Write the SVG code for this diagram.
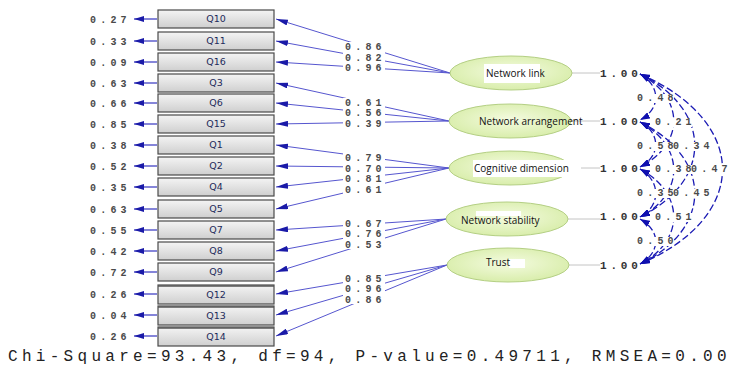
<svg xmlns="http://www.w3.org/2000/svg" width="731" height="367" viewBox="0 0 731 367">
  <defs>
    <linearGradient id="boxFill" x1="0" y1="0" x2="0" y2="1">
      <stop offset="0" stop-color="#f4f4f4"/>
      <stop offset="1" stop-color="#cfcfcf"/>
    </linearGradient>
    <radialGradient id="ellFill" cx="0.5" cy="0.45" r="0.6">
      <stop offset="0" stop-color="#f4fbe0"/>
      <stop offset="1" stop-color="#d6eca6"/>
    </radialGradient>
    <marker id="headLoad" viewBox="0 0 12 6" refX="12" refY="3" markerWidth="12" markerHeight="6" markerUnits="userSpaceOnUse" orient="auto">
      <path d="M0,0 L12,3 L0,6 z" fill="#1a1aa8"/>
    </marker>
    <marker id="headErr" viewBox="0 0 10 6" refX="0" refY="3" markerWidth="10" markerHeight="6" markerUnits="userSpaceOnUse" orient="auto">
      <path d="M0,3 L10,0 L10,6 z" fill="#1a1aa8"/>
    </marker>
    <marker id="headCov" viewBox="0 0 10 7" refX="10" refY="3.5" markerWidth="10" markerHeight="7" markerUnits="userSpaceOnUse" orient="auto-start-reverse">
      <path d="M0,0 L10,3.5 L0,7 z" fill="#1010b0"/>
    </marker>
  </defs>
  <style>
    .box { fill: url(#boxFill); stroke: #4a4a4a; stroke-width: 1.2; }
    .boxlbl { font-family: "DejaVu Sans", sans-serif; font-size: 9.5px; fill: #1d2a5a; text-anchor: middle; }
    .num { font-family: "Liberation Mono", monospace; font-size: 10px; letter-spacing: 4.2px; fill: #4a4a4a; font-weight: bold; }
    .bg { fill: #fff; }
    .one { font-family: "Liberation Mono", monospace; font-size: 11px; letter-spacing: 3.8px; fill: #333; font-weight: bold; }
    .ell { fill: url(#ellFill); stroke: #b4cf84; stroke-width: 1; }
    .elllbl { font-family: "Open Sans", sans-serif; font-size: 10px; fill: #111; }
    .load { stroke: #5656cf; stroke-width: 1; fill: none; marker-end: url(#headLoad); }
    .err { stroke: #3434c0; stroke-width: 1.2; fill: none; marker-start: url(#headErr); }
    .tie { stroke: #c4c4c4; stroke-width: 1; }
    .cov { stroke: #1a1ab4; stroke-width: 1.3; fill: none; stroke-dasharray: 7 3; marker-start: url(#headCov); marker-end: url(#headCov); }
    .fit { font-family: "Liberation Mono", monospace; font-size: 16px; letter-spacing: 4.3px; fill: #222; }
  </style>

  <!-- loading paths, error arrows, factor ties, covariances -->
  <g id="connectors">
    <line class="err" x1="134" y1="19" x2="157" y2="19"/>
    <line class="err" x1="134" y1="41" x2="157" y2="41"/>
    <line class="err" x1="134" y1="62" x2="157" y2="62"/>
    <line class="err" x1="134" y1="83" x2="157" y2="83"/>
    <line class="err" x1="134" y1="103" x2="157" y2="103"/>
    <line class="err" x1="134" y1="124" x2="157" y2="124"/>
    <line class="err" x1="134" y1="145" x2="157" y2="145"/>
    <line class="err" x1="134" y1="166" x2="157" y2="166"/>
    <line class="err" x1="134" y1="187" x2="157" y2="187"/>
    <line class="err" x1="134" y1="209" x2="157" y2="209"/>
    <line class="err" x1="134" y1="230" x2="157" y2="230"/>
    <line class="err" x1="134" y1="251" x2="157" y2="251"/>
    <line class="err" x1="134" y1="272" x2="157" y2="272"/>
    <line class="err" x1="134" y1="294" x2="157" y2="294"/>
    <line class="err" x1="134" y1="315" x2="157" y2="315"/>
    <line class="err" x1="134" y1="336" x2="157" y2="336"/>

    <line class="load" x1="450" y1="73" x2="276" y2="19"/>
    <line class="load" x1="450" y1="73" x2="276" y2="41"/>
    <line class="load" x1="450" y1="73" x2="276" y2="62"/>
    <line class="load" x1="449" y1="121" x2="276" y2="83"/>
    <line class="load" x1="449" y1="121" x2="276" y2="103"/>
    <line class="load" x1="449" y1="121" x2="276" y2="124"/>
    <line class="load" x1="449" y1="168" x2="276" y2="145"/>
    <line class="load" x1="449" y1="168" x2="276" y2="166"/>
    <line class="load" x1="449" y1="168" x2="276" y2="187"/>
    <line class="load" x1="449" y1="168" x2="276" y2="209"/>
    <line class="load" x1="446" y1="219" x2="276" y2="230"/>
    <line class="load" x1="446" y1="219" x2="276" y2="251"/>
    <line class="load" x1="446" y1="219" x2="276" y2="272"/>
    <line class="load" x1="447" y1="265" x2="276" y2="294"/>
    <line class="load" x1="447" y1="265" x2="276" y2="315"/>
    <line class="load" x1="447" y1="265" x2="276" y2="336"/>

    <line class="tie" x1="572" y1="73" x2="600" y2="73"/>
    <line class="tie" x1="571" y1="121" x2="600" y2="121"/>
    <line class="tie" x1="571" y1="168" x2="600" y2="168"/>
    <line class="tie" x1="568" y1="219" x2="600" y2="219"/>
    <line class="tie" x1="569" y1="265" x2="600" y2="265"/>

    <!-- adjacent factors -->
    <path class="cov" d="M640,74 C661,86 661,109 640,120"/>
    <path class="cov" d="M640,122 C661,133 661,156 640,167"/>
    <path class="cov" d="M640,169 C661,181 661,206 640,217"/>
    <path class="cov" d="M640,219 C661,231 661,252 640,264"/>
    <!-- two apart -->
    <path class="cov" d="M640,74 C685,98 685,144 640,167"/>
    <path class="cov" d="M640,122 C685,146 685,194 640,217"/>
    <path class="cov" d="M640,169 C685,193 685,241 640,264"/>
    <!-- three apart -->
    <path class="cov" d="M640,74 C713,110 713,181 640,217"/>
    <path class="cov" d="M640,122 C713,158 713,229 640,264"/>
    <!-- four apart -->
    <path class="cov" d="M640,74 C750,122 750,217 640,264"/>
  </g>

  <g id="errors">
    <text class="num" x="90" y="23">0.27</text>
    <text class="num" x="90" y="45">0.33</text>
    <text class="num" x="90" y="66">0.09</text>
    <text class="num" x="90" y="87">0.63</text>
    <text class="num" x="90" y="107">0.66</text>
    <text class="num" x="90" y="128">0.85</text>
    <text class="num" x="90" y="149">0.38</text>
    <text class="num" x="90" y="170">0.52</text>
    <text class="num" x="90" y="191">0.35</text>
    <text class="num" x="90" y="213">0.63</text>
    <text class="num" x="90" y="234">0.55</text>
    <text class="num" x="90" y="255">0.42</text>
    <text class="num" x="90" y="276">0.72</text>
    <text class="num" x="90" y="298">0.26</text>
    <text class="num" x="90" y="319">0.04</text>
    <text class="num" x="90" y="340">0.26</text>
  </g>

  <g id="Q10"><rect class="box" x="158" y="10" width="116" height="18"/><text class="boxlbl" x="216" y="22">Q10</text></g>
  <g id="Q11"><rect class="box" x="158" y="32" width="116" height="18"/><text class="boxlbl" x="216" y="44">Q11</text></g>
  <g id="Q16"><rect class="box" x="158" y="53" width="116" height="18"/><text class="boxlbl" x="216" y="65">Q16</text></g>
  <g id="Q3"><rect class="box" x="158" y="74" width="116" height="18"/><text class="boxlbl" x="216" y="86">Q3</text></g>
  <g id="Q6"><rect class="box" x="158" y="94" width="116" height="18"/><text class="boxlbl" x="216" y="106">Q6</text></g>
  <g id="Q15"><rect class="box" x="158" y="115" width="116" height="18"/><text class="boxlbl" x="216" y="127">Q15</text></g>
  <g id="Q1"><rect class="box" x="158" y="136" width="116" height="18"/><text class="boxlbl" x="216" y="148">Q1</text></g>
  <g id="Q2"><rect class="box" x="158" y="157" width="116" height="18"/><text class="boxlbl" x="216" y="169">Q2</text></g>
  <g id="Q4"><rect class="box" x="158" y="178" width="116" height="18"/><text class="boxlbl" x="216" y="190">Q4</text></g>
  <g id="Q5"><rect class="box" x="158" y="200" width="116" height="18"/><text class="boxlbl" x="216" y="212">Q5</text></g>
  <g id="Q7"><rect class="box" x="158" y="221" width="116" height="18"/><text class="boxlbl" x="216" y="233">Q7</text></g>
  <g id="Q8"><rect class="box" x="158" y="242" width="116" height="18"/><text class="boxlbl" x="216" y="254">Q8</text></g>
  <g id="Q9"><rect class="box" x="158" y="263" width="116" height="18"/><text class="boxlbl" x="216" y="275">Q9</text></g>
  <g id="Q12"><rect class="box" x="158" y="285" width="116" height="19"/><line x1="158" y1="286" x2="274" y2="286" stroke="#555" stroke-width="1.5"/><text class="boxlbl" x="216" y="298">Q12</text></g>
  <g id="Q13"><rect class="box" x="158" y="306" width="116" height="19"/><line x1="158" y1="307" x2="274" y2="307" stroke="#555" stroke-width="1.5"/><text class="boxlbl" x="216" y="319">Q13</text></g>
  <g id="Q14"><rect class="box" x="158" y="327" width="116" height="19"/><line x1="158" y1="328" x2="274" y2="328" stroke="#555" stroke-width="1.5"/><text class="boxlbl" x="216" y="340">Q14</text></g>

  <g id="loadings">
    <rect class="bg" x="343" y="42" width="42" height="30"/>
    <rect class="bg" x="343" y="98" width="42" height="30"/>
    <rect class="bg" x="343" y="153" width="42" height="41"/>
    <rect class="bg" x="343" y="219" width="42" height="30"/>
    <rect class="bg" x="343" y="274" width="42" height="30"/>
    <text class="num" x="345" y="50">0.86</text>
    <text class="num" x="345" y="61">0.82</text>
    <text class="num" x="345" y="71">0.96</text>
    <text class="num" x="345" y="106">0.61</text>
    <text class="num" x="345" y="116">0.56</text>
    <text class="num" x="345" y="127">0.39</text>
    <text class="num" x="345" y="161">0.79</text>
    <text class="num" x="345" y="172">0.70</text>
    <text class="num" x="345" y="182">0.81</text>
    <text class="num" x="345" y="193">0.61</text>
    <text class="num" x="345" y="227">0.67</text>
    <text class="num" x="345" y="237">0.76</text>
    <text class="num" x="345" y="248">0.53</text>
    <text class="num" x="345" y="282">0.85</text>
    <text class="num" x="345" y="292">0.96</text>
    <text class="num" x="345" y="303">0.86</text>
  </g>

  <g id="NetworkLink">
    <ellipse class="ell" cx="511" cy="73" rx="61" ry="17"/>
    <rect x="484" y="64" width="56" height="19" fill="#fff"/>
    <text class="elllbl" x="486" y="77">Network link</text>
  </g>
  <g id="NetworkArrangement">
    <ellipse class="ell" cx="510" cy="121" rx="61" ry="17"/>
    <text class="elllbl" x="479" y="125">Network arrangement</text>
  </g>
  <g id="CognitiveDimension">
    <ellipse class="ell" cx="510" cy="168" rx="61" ry="17"/>
    <rect x="473" y="160" width="108" height="17" fill="#fff"/>
    <text class="elllbl" x="474" y="172">Cognitive dimension</text>
  </g>
  <g id="NetworkStability">
    <ellipse class="ell" cx="507" cy="219" rx="61" ry="17"/>
    <rect x="476" y="211" width="45" height="5" fill="#fff"/>
    <text class="elllbl" x="461" y="224">Network stability</text>
  </g>
  <g id="Trust">
    <ellipse class="ell" cx="508" cy="265" rx="61" ry="17"/>
    <rect x="509" y="259" width="16" height="9" fill="#fff"/>
    <text class="elllbl" x="486" y="266">Trust</text>
  </g>

  <g id="variances">
    <text class="one" x="600" y="77">1.00</text>
    <text class="one" x="600" y="125">1.00</text>
    <text class="one" x="600" y="172">1.00</text>
    <text class="one" x="600" y="220">1.00</text>
    <text class="one" x="600" y="269">1.00</text>
  </g>

  <g id="covariances">
    <rect class="bg" x="636" y="94" width="38" height="9"/>
    <rect class="bg" x="654" y="118" width="38" height="9"/>
    <rect class="bg" x="636" y="142" width="75" height="9"/>
    <rect class="bg" x="654" y="165" width="77" height="9"/>
    <rect class="bg" x="636" y="189" width="75" height="9"/>
    <rect class="bg" x="654" y="213" width="38" height="9"/>
    <rect class="bg" x="636" y="237" width="38" height="9"/>
    <text class="num" x="637" y="101">0.48</text>
    <text class="num" x="655" y="125">0.21</text>
    <text class="num" x="637" y="149">0.58</text>
    <text class="num" x="673" y="149">0.34</text>
    <text class="num" x="655" y="172">0.38</text>
    <text class="num" x="691" y="172">0.47</text>
    <text class="num" x="637" y="196">0.35</text>
    <text class="num" x="673" y="196">0.45</text>
    <text class="num" x="655" y="220">0.51</text>
    <text class="num" x="637" y="244">0.50</text>
  </g>

  <text class="fit" x="8" y="361">Chi-Square=93.43, df=94, P-value=0.49711, RMSEA=0.000</text>
</svg>
